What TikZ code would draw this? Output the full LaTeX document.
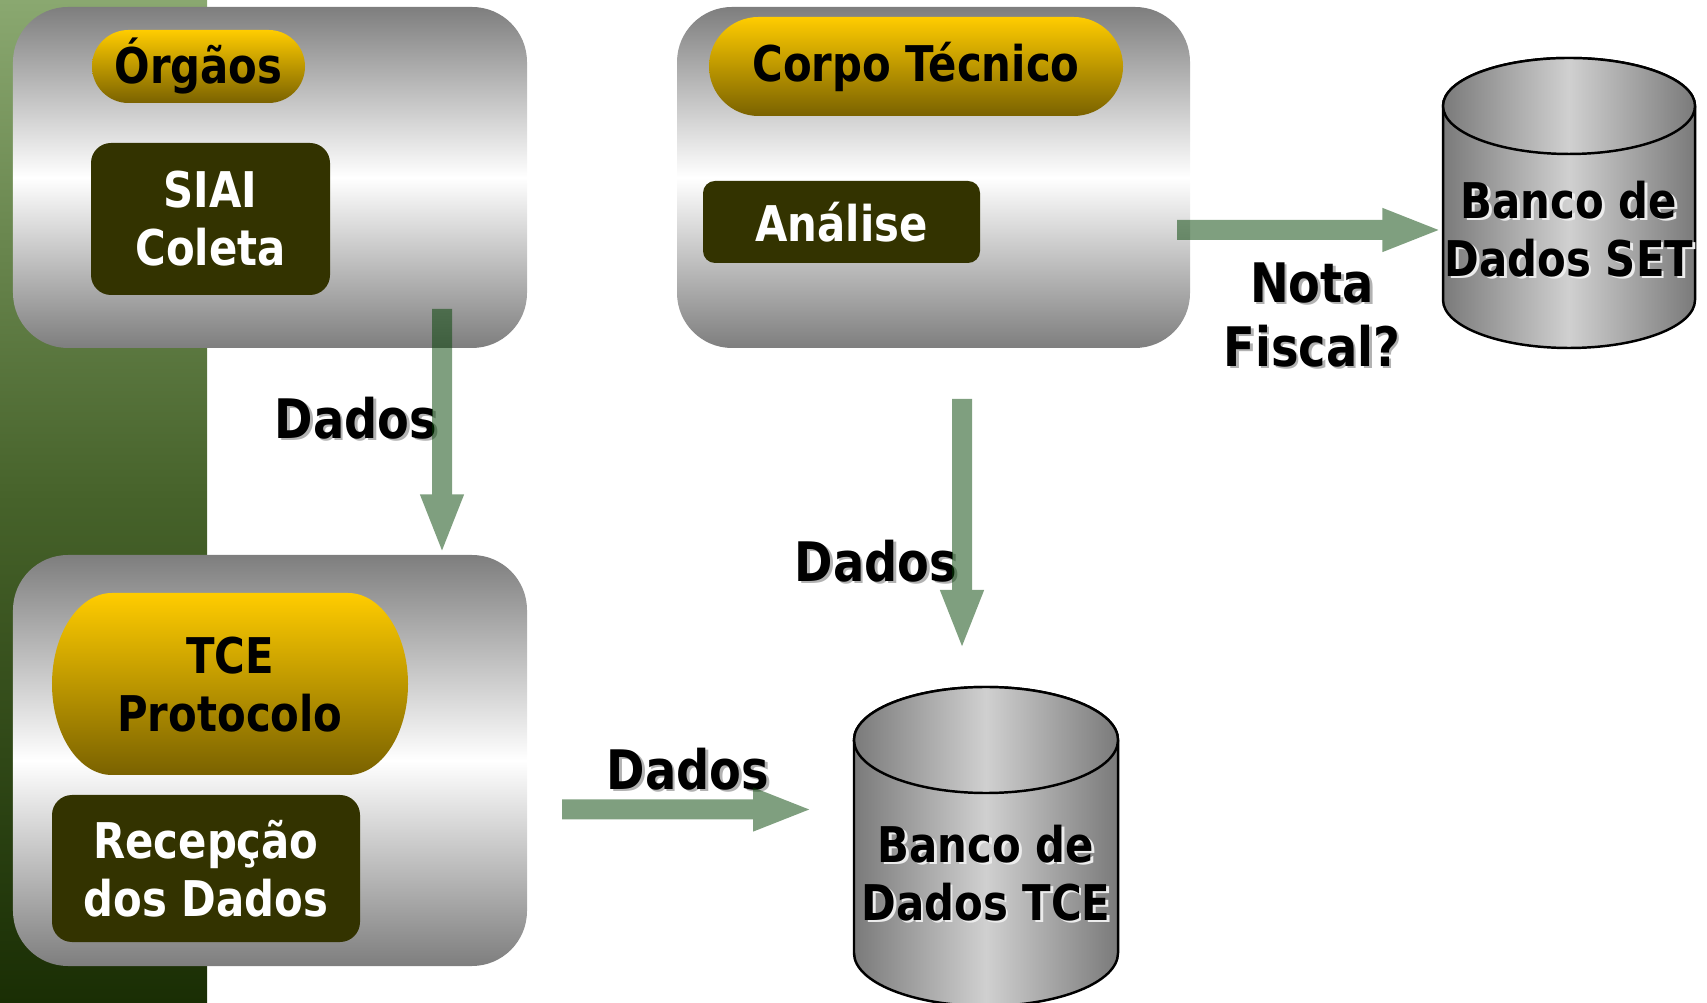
\documentclass[tikz,border=0pt]{standalone}
\usepackage{fontspec}
\setmainfont{DejaVu Sans}[FakeStretch=0.85]
\usetikzlibrary{arrows.meta,positioning}

\definecolor{verdeclaro}{RGB}{138,168,112}
\definecolor{verdemedio}{RGB}{70,98,42}
\definecolor{verdeescuro}{RGB}{26,46,4}
\definecolor{cinza}{RGB}{126,126,126}
\definecolor{ouro}{RGB}{255,204,0}
\definecolor{ouroescuro}{RGB}{122,98,0}
\definecolor{oliva}{RGB}{51,51,0}
\definecolor{cilindro}{RGB}{122,122,122}
\definecolor{cilindroclaro}{RGB}{208,208,208}
\definecolor{verdeseta}{RGB}{0,64,0}

%% texto com sombra
\newcommand{\sombra}[2]{\makebox[0pt][l]{\hspace{0.7pt}\raisebox{-0.7pt}{\textcolor{#1}{#2}}}#2}

\tikzset{
  grupo/.style={rounded corners=0.55cm,top color=cinza,bottom color=cinza,middle color=white,minimum width=5.14cm},
  texto/.style={inner sep=0pt,align=center,font=\fontsize{14}{16.5}\selectfont\bfseries},
  pilula/.style={texto,top color=ouro,bottom color=ouroescuro},
  caixa/.style={texto,fill=oliva,text=white,rounded corners=0.2cm},
  rotulo/.style={inner sep=0pt,align=center,font=\fontsize{15.5}{18.2}\selectfont\bfseries},
  cil/.style={left color=cilindro,right color=cilindro,middle color=cilindroclaro,draw=black,line width=0.7pt},
  seta/.style={line width=0.2cm,draw=verdeseta,-{Triangle[width=0.39cm,length=0.6cm]}}
}

\begin{document}
\begin{tikzpicture}
  \useasboundingbox (0,0) rectangle (17.07,-10.03);
  %% faixa verde
  \shade[top color=verdeclaro,bottom color=verdeescuro,middle color=verdemedio] (0,0) rectangle (2.07,-10.03);
  %% grupos
  \node[anchor=center,grupo,minimum height=3.41cm] (orgaos) at (2.70,-1.775) {};
  \node[anchor=center,grupo,minimum width=5.13cm,minimum height=3.41cm] (corpo) at (9.335,-1.775) {};
  \node[anchor=center,grupo,minimum height=4.11cm] (tce) at (2.70,-7.605) {};
  %% titulos
  \node[anchor=center,pilula,minimum width=2.13cm,minimum height=0.73cm,rounded corners=0.365cm] (orgaostit) at (1.985,-0.665) {Órgãos};
  \node[anchor=center,pilula,minimum width=4.14cm,minimum height=0.99cm,rounded corners=0.495cm] (corpotit) at (9.16,-0.665) {Corpo Técnico};
  \shade[top color=ouro,bottom color=ouroescuro] (1.12,-5.93) -- (3.48,-5.93)
    arc[start angle=90,end angle=-90,x radius=0.6,y radius=0.91] -- (1.12,-7.75)
    arc[start angle=270,end angle=90,x radius=0.6,y radius=0.91] -- cycle;
  \node[anchor=center,texto] (protocolo) at (2.30,-6.85) {TCE\\Protocolo};
  %% caixas
  \node[anchor=center,caixa,minimum width=2.39cm,minimum height=1.52cm] (siai) at (2.105,-2.19) {SIAI\\Coleta};
  \node[anchor=center,caixa,minimum width=2.77cm,minimum height=0.82cm,rounded corners=0.12cm] (analise) at (8.415,-2.22) {Análise};
  \node[anchor=center,caixa,minimum width=3.08cm,minimum height=1.47cm] (recepcao) at (2.06,-8.685) {Recepção\\dos Dados};
  %% Banco de Dados SET
  \shade[cil] (14.43,-1.06) -- (14.43,-3.00) arc[start angle=180,end angle=360,x radius=1.26,y radius=0.48]
    -- (16.95,-1.06) arc[start angle=0,end angle=180,x radius=1.26,y radius=0.48] -- cycle;
  \shade[cil] (15.69,-1.06) ellipse[x radius=1.26,y radius=0.48];
  \node[anchor=center,texto,minimum width=2.52cm] (set) at (15.69,-2.30) {\sombra{white!85!gray}{Banco de}\\\sombra{white!85!gray}{Dados SET}};
  %% Banco de Dados TCE
  \shade[cil] (8.54,-7.40) -- (8.54,-9.53) arc[start angle=180,end angle=360,x radius=1.32,y radius=0.53]
    -- (11.18,-7.40) arc[start angle=0,end angle=180,x radius=1.32,y radius=0.53] -- cycle;
  \shade[cil] (9.86,-7.40) ellipse[x radius=1.32,y radius=0.53];
  \node[anchor=center,texto,minimum width=2.64cm] (tcedb) at (9.86,-8.74) {\sombra{white!85!gray}{Banco de}\\\sombra{white!85!gray}{Dados TCE}};
  %% rotulos
  \node[anchor=center,rotulo] (dados1) at (3.56,-4.19) {\sombra{gray!60}{Dados}};
  \node[anchor=center,rotulo] (dados2) at (8.76,-5.62) {\sombra{gray!60}{Dados}};
  \node[anchor=center,rotulo] (dados3) at (6.88,-7.70) {\sombra{gray!60}{Dados}};
  \node[anchor=center,rotulo] (nota) at (13.12,-3.16) {\sombra{gray!60}{Nota}\\\sombra{gray!60}{Fiscal?}};
  %% setas
  \coordinate (ini1) at (4.42,-3.09);
  \coordinate (ini2) at (9.62,-3.99);
  \coordinate (fim2) at (9.62,-6.50);
  \coordinate (ini3) at (5.62,-8.095);
  \coordinate (fim3) at (8.13,-8.095);
  \coordinate (ini4) at (11.77,-2.30);
  \begin{scope}[transparency group,opacity=0.5]
    \draw[seta] (ini1) -- (ini1 |- tce.north);
    \draw[seta] (ini2) -- (fim2);
    \draw[seta] (ini3) -- (fim3);
    \draw[seta] (ini4) -- (set.west);
  \end{scope}
\end{tikzpicture}
\end{document}
